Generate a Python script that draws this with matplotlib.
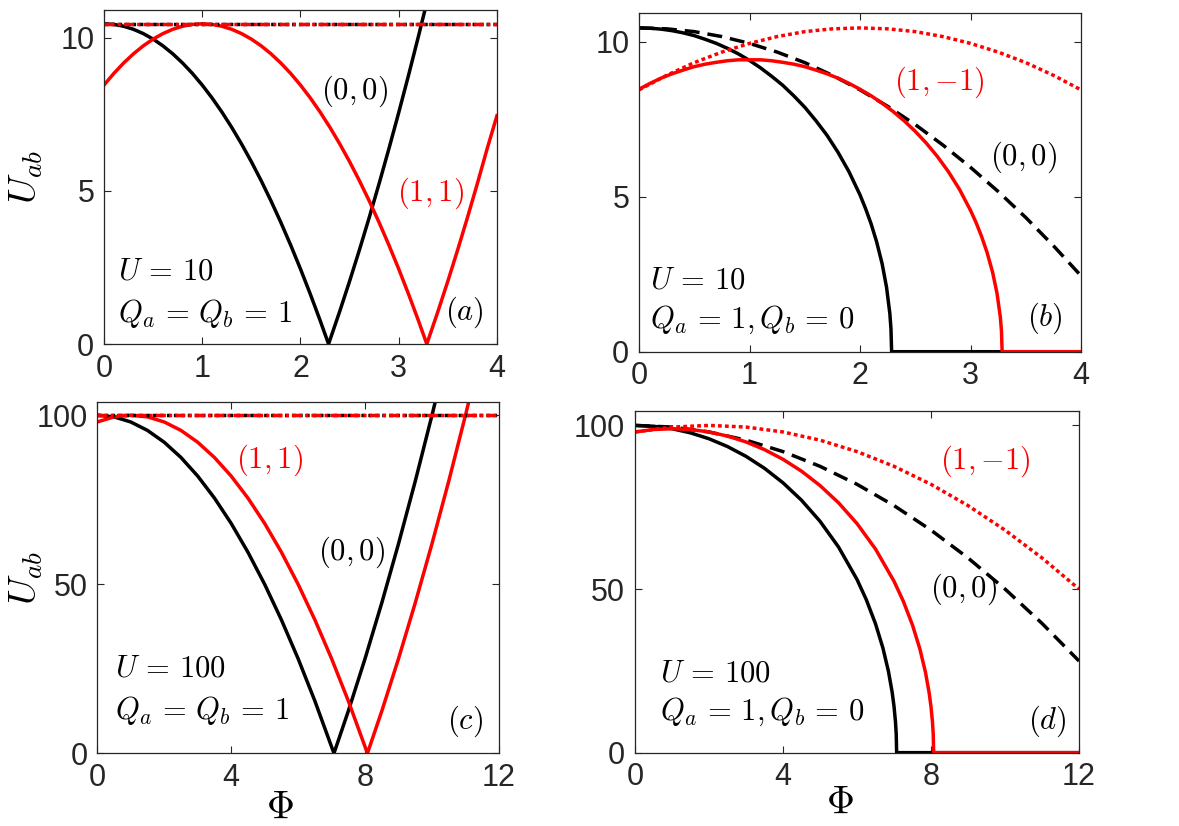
import matplotlib
matplotlib.use('Agg')
import matplotlib.pyplot as plt

plt.rcParams['mathtext.fontset'] = 'cm'
plt.rcParams['font.family'] = ['Liberation Sans', 'DejaVu Sans']

AX_COL = '#262626'
RED = '#ff0000'

# ---- panel (a): U = 10, Qa = Qb = 1
phi_a_00 = [0, 0.1, 0.2, 0.3, 0.4, 0.5, 0.6, 0.7, 0.8, 0.9, 1.0, 1.1, 1.2, 1.3, 1.4, 1.5, 1.6, 1.7,
            1.8, 1.9, 2.0, 2.1, 2.2, 2.286, 2.4, 2.5, 2.6, 2.7, 2.8, 2.9, 3.0, 3.1, 3.2, 3.3]
u_a_00 = [10.45, 10.43, 10.37, 10.27, 10.13, 9.95, 9.73, 9.47, 9.17, 8.83, 8.45, 8.03, 7.57, 7.07, 6.53,
          5.95, 5.33, 4.67, 3.97, 3.23, 2.45, 1.63, 0.77, 0.0, 1.07, 2.05, 3.07, 4.13, 5.23, 6.37, 7.55,
          8.77, 10.03, 11.33]
phi_a_11 = [0, 0.1, 0.2, 0.3, 0.4, 0.5, 0.6, 0.7, 0.8, 0.9, 1.0, 1.1, 1.2, 1.3, 1.4, 1.5, 1.6, 1.7,
            1.8, 1.9, 2.0, 2.1, 2.2, 2.3, 2.4, 2.5, 2.6, 2.7, 2.8, 2.9, 3.0, 3.1, 3.2, 3.286, 3.4, 3.5,
            3.6, 3.7, 3.8, 3.9, 4.0]
u_a_11 = [8.45, 8.83, 9.17, 9.47, 9.73, 9.95, 10.13, 10.27, 10.37, 10.43, 10.45, 10.43, 10.37, 10.27,
          10.13, 9.95, 9.73, 9.47, 9.17, 8.83, 8.45, 8.03, 7.57, 7.07, 6.53, 5.95, 5.33, 4.67, 3.97,
          3.23, 2.45, 1.63, 0.77, 0.0, 1.07, 2.05, 3.07, 4.13, 5.23, 6.37, 7.45]
phi_a_flat = [0, 4]
u_a_flat = [10.45, 10.45]

# ---- panel (b): U = 10, Qa = 1, Qb = 0
phi_b_00 = [0, 0.1, 0.2, 0.3, 0.4, 0.5, 0.6, 0.7, 0.8, 0.9, 1.0, 1.1, 1.2, 1.3, 1.4, 1.5, 1.6, 1.7,
            1.8, 1.9, 2.0, 2.05, 2.1, 2.15, 2.2, 2.24, 2.27, 2.28, 2.286, 4.0]
u_b_00 = [10.45, 10.44, 10.41, 10.36, 10.29, 10.20, 10.08, 9.95, 9.79, 9.61, 9.40, 9.16, 8.89, 8.60,
          8.26, 7.89, 7.46, 6.99, 6.44, 5.81, 5.06, 4.62, 4.13, 3.55, 2.84, 2.08, 1.23, 0.74, 0.0, 0.0]
phi_b_1m1 = [0, 0.1, 0.2, 0.3, 0.4, 0.5, 0.6, 0.7, 0.8, 0.9, 1.0, 1.1, 1.2, 1.3, 1.4, 1.5, 1.6, 1.7,
             1.8, 1.9, 2.0, 2.1, 2.2, 2.3, 2.4, 2.5, 2.6, 2.7, 2.8, 2.9, 3.0, 3.05, 3.1, 3.15, 3.2,
             3.24, 3.27, 3.28, 3.286, 4.0]
u_b_1m1 = [8.47, 8.66, 8.83, 8.97, 9.09, 9.20, 9.28, 9.34, 9.39, 9.42, 9.42, 9.42, 9.39, 9.34, 9.28,
           9.20, 9.09, 8.97, 8.83, 8.66, 8.47, 8.26, 8.02, 7.75, 7.45, 7.11, 6.73, 6.30, 5.81, 5.24,
           4.56, 4.17, 3.72, 3.20, 2.56, 1.88, 1.11, 0.67, 0.0, 0.0]
phi_b_dash = [0, 0.25, 0.5, 0.75, 1.0, 1.25, 1.5, 1.75, 2.0, 2.25, 2.5, 2.75, 3.0, 3.25, 3.5, 3.75, 4.0]
u_b_dash = [10.45, 10.42, 10.33, 10.17, 9.95, 9.67, 9.33, 8.92, 8.45, 7.92, 7.33, 6.67, 5.95, 5.17,
            4.33, 3.42, 2.45]
phi_b_dot = [0, 0.25, 0.5, 0.75, 1.0, 1.25, 1.5, 1.75, 2.0, 2.25, 2.5, 2.75, 3.0, 3.25, 3.5, 3.75, 4.0]
u_b_dot = [8.45, 8.92, 9.33, 9.67, 9.95, 10.17, 10.33, 10.42, 10.45, 10.42, 10.33, 10.17, 9.95, 9.67,
           9.33, 8.92, 8.45]

# ---- panel (c): U = 100, Qa = Qb = 1
phi_c_00 = [0, 0.5, 1, 1.5, 2, 2.5, 3, 3.5, 4, 4.5, 5, 5.5, 6, 6.5, 7.071, 7.5, 8, 8.5, 9, 9.5, 10, 10.3]
u_c_00 = [100, 99.5, 98, 95.5, 92, 87.5, 82, 75.5, 68, 59.5, 50, 39.5, 28, 15.5, 0, 12.5, 28, 44.5,
          62, 80.5, 100, 112.2]
phi_c_11 = [0, 0.5, 1, 1.5, 2, 2.5, 3, 3.5, 4, 4.5, 5, 5.5, 6, 6.5, 7, 7.5, 8.071, 8.5, 9, 9.5, 10,
            10.5, 11, 11.3]
u_c_11 = [98, 99.5, 100, 99.5, 98, 95.5, 92, 87.5, 82, 75.5, 68, 59.5, 50, 39.5, 28, 15.5, 0, 12.5,
          28, 44.5, 62, 80.5, 100, 112.2]
phi_c_flat = [0, 12]
u_c_flat = [100.1, 100.1]

# ---- panel (d): U = 100, Qa = 1, Qb = 0
phi_d_00 = [0, 0.5, 1, 1.5, 2, 2.5, 3, 3.5, 4, 4.5, 5, 5.5, 6, 6.25, 6.5, 6.7, 6.85, 6.95, 7.0, 7.04,
            7.06, 7.071, 12]
u_d_00 = [100, 99.75, 98.99, 97.72, 95.92, 93.54, 90.55, 86.89, 82.46, 77.14, 70.71, 62.85, 52.92,
          46.77, 39.37, 31.97, 24.81, 18.43, 14.14, 9.36, 5.59, 0, 0]
phi_d_1m1 = [0, 0.5, 1, 1.5, 2, 2.5, 3, 3.5, 4, 4.5, 5, 5.5, 6, 6.5, 7, 7.25, 7.5, 7.7, 7.85, 7.95,
             8.0, 8.04, 8.06, 8.071, 12]
u_d_1m1 = [98, 98.75, 98.99, 98.75, 98, 96.74, 94.95, 92.60, 89.64, 86.02, 81.63, 76.36, 70, 62.22,
           52.38, 46.30, 38.97, 31.65, 24.56, 18.24, 14.0, 9.27, 5.54, 0, 0]
phi_d_dash = [0, 1, 2, 3, 4, 5, 6, 7, 8, 9, 10, 11, 12]
u_d_dash = [100, 99.5, 98, 95.5, 92, 87.5, 82, 75.5, 68, 59.5, 50, 39.5, 28]
phi_d_dot = [0, 1, 2, 3, 4, 5, 6, 7, 8, 9, 10, 11, 12]
u_d_dot = [98, 99.5, 100, 99.5, 98, 95.5, 92, 87.5, 82, 75.5, 68, 59.5, 50]

LW = 2.5
DOT = (0, (1.1, 0.9))
DASH = (0, (4.3, 2.3))
DASHDOT = (0, (2.9, 0.9, 0.9, 0.9))

fig = plt.figure(figsize=(11.79, 8.26), dpi=100)
ax_a = fig.add_axes([0.0882, 0.5835, 0.3333, 0.4044])
ax_b = fig.add_axes([0.5420, 0.5742, 0.3749, 0.4104])
ax_c = fig.add_axes([0.0825, 0.0880, 0.3407, 0.4249])
ax_d = fig.add_axes([0.5386, 0.0888, 0.3766, 0.4140])


def style(ax, xmax, ymax, xticks, yticks):
    ax.set_xlim(0, xmax)
    ax.set_ylim(0, ymax)
    ax.set_xticks(xticks)
    ax.set_yticks(yticks)
    ax.tick_params(direction='in', top=True, right=True, length=5, width=0.8,
                   labelsize=22, colors=AX_COL, pad=7)
    for s in ax.spines.values():
        s.set_color(AX_COL)
        s.set_linewidth(0.9)


def txt(ax, x, y, s, color='k', ha='center'):
    ax.text(x, y, s, color=color, fontsize=22, ha=ha, va='center')


# (a)
ax_a.plot(phi_a_00, u_a_00, color='k', lw=LW)
ax_a.plot(phi_a_11, u_a_11, color=RED, lw=LW)
ax_a.plot(phi_a_flat, u_a_flat, color='k', lw=LW, ls=DOT)
ax_a.plot(phi_a_flat, u_a_flat, color=RED, lw=LW, ls=DASHDOT)
style(ax_a, 4, 10.9, [0, 1, 2, 3, 4], [0, 5, 10])
txt(ax_a, 2.55, 8.25, r'$(0,0)$')
txt(ax_a, 3.32, 4.93, r'$(1,1)$', color=RED)
txt(ax_a, 0.14, 2.36, r'$U\,=\,10$', ha='left')
txt(ax_a, 0.14, 1.0, r'$Q_a\,=\,Q_b\,=\,1$', ha='left')
txt(ax_a, 3.67, 1.05, r'$(a)$')
ax_a.set_ylabel(r'$U_{ab}$', fontsize=28)
ax_a.yaxis.set_label_coords(-0.15, 0.5)

# (b)
ax_b.plot(phi_b_00, u_b_00, color='k', lw=LW)
ax_b.plot(phi_b_dash, u_b_dash, color='k', lw=LW, ls=DASH)
ax_b.plot(phi_b_dot, u_b_dot, color=RED, lw=LW, ls=DOT)
ax_b.plot(phi_b_1m1, u_b_1m1, color=RED, lw=LW)
style(ax_b, 4, 10.94, [0, 1, 2, 3, 4], [0, 5, 10])
txt(ax_b, 2.72, 8.71, r'$(1,{-1})$', color=RED)
txt(ax_b, 3.48, 6.29, r'$(0,0)$')
txt(ax_b, 0.1, 2.31, r'$U\,=\,10$', ha='left')
txt(ax_b, 0.1, 1.02, r'$Q_a\,=\,1,Q_b\,=\,0$', ha='left')
txt(ax_b, 3.67, 1.08, r'$(b)$')

# (c)
ax_c.plot(phi_c_00, u_c_00, color='k', lw=LW)
ax_c.plot(phi_c_11, u_c_11, color=RED, lw=LW)
ax_c.plot(phi_c_flat, u_c_flat, color='k', lw=LW, ls=DOT)
ax_c.plot(phi_c_flat, u_c_flat, color=RED, lw=LW, ls=DASHDOT)
style(ax_c, 12, 103.8, [0, 4, 8, 12], [0, 50, 100])
txt(ax_c, 5.16, 86.8, r'$(1,1)$', color=RED)
txt(ax_c, 7.6, 59.6, r'$(0,0)$')
txt(ax_c, 0.53, 25.1, r'$U\,=\,100$', ha='left')
txt(ax_c, 0.53, 12.8, r'$Q_a\,=\,Q_b\,=\,1$', ha='left')
txt(ax_c, 10.99, 9.35, r'$(c)$')
ax_c.set_ylabel(r'$U_{ab}$', fontsize=28)
ax_c.yaxis.set_label_coords(-0.13, 0.5)
ax_c.set_xlabel(r'$\Phi$', fontsize=28)
ax_c.xaxis.set_label_coords(0.455, -0.105)

# (d)
ax_d.plot(phi_d_00, u_d_00, color='k', lw=LW)
ax_d.plot(phi_d_dash, u_d_dash, color='k', lw=LW, ls=DASH)
ax_d.plot(phi_d_dot, u_d_dot, color=RED, lw=LW, ls=DOT)
ax_d.plot(phi_d_1m1, u_d_1m1, color=RED, lw=LW)
style(ax_d, 12, 104.5, [0, 4, 8, 12], [0, 50, 100])
txt(ax_d, 9.46, 89, r'$(1,{-1})$', color=RED)
txt(ax_d, 8.87, 49.8, r'$(0,0)$')
txt(ax_d, 0.68, 24.3, r'$U\,=\,100$', ha='left')
txt(ax_d, 0.68, 12.5, r'$Q_a\,=\,1,Q_b\,=\,0$', ha='left')
txt(ax_d, 11.13, 9.5, r'$(d)$')
ax_d.set_xlabel(r'$\Phi$', fontsize=28)
ax_d.xaxis.set_label_coords(0.462, -0.095)

fig.savefig('out.png', dpi=100)
